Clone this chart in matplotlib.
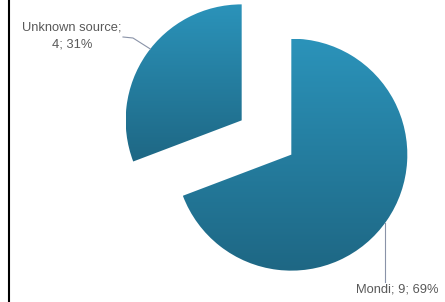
import numpy as np
import matplotlib.pyplot as plt
from matplotlib.colors import LinearSegmentedColormap

# data
sources = ["Mondi", "Unknown source"]
counts = [9, 4]

W, H = 445, 302
fig = plt.figure(figsize=(W / 100, H / 100), dpi=100)
ax = fig.add_axes([0, 0, 1, 1])

R = 116
center = (266.5, H - 137.5)
# pie explode is in data units here, so scale by radius
explode = [0.26 * R, 0.26 * R]
wedges, _ = ax.pie(counts, explode=explode, radius=R, center=center,
                   startangle=90, counterclock=False,
                   colors=["#23789a"] * 2, frame=True,
                   wedgeprops=dict(linewidth=0))
ax.set_xlim(0, W)
ax.set_ylim(0, H)
ax.set_aspect("equal")
ax.axis("off")

# vertical gradient fill, lighter at the top, clipped to each wedge
cmap = LinearSegmentedColormap.from_list("teal", ["#1e6784", "#2b93ba"])
grad = np.linspace(0, 1, 256).reshape(-1, 1)
for w in wedges:
    w.set_facecolor("none")
    bb = w.get_path().get_extents(w.get_transform())
    inv = ax.transData.inverted()
    (x0, y0), (x1, y1) = inv.transform([[bb.x0, bb.y0], [bb.x1, bb.y1]])
    im = ax.imshow(grad, cmap=cmap, origin="lower", aspect="auto",
                   extent=[x0, x1, y0, y1], interpolation="bilinear",
                   zorder=2)
    im.set_clip_path(w)

ax.set_xlim(0, W)
ax.set_ylim(0, H)

total = sum(counts)
txt_color = "#595959"
font = dict(family="Liberation Sans", fontsize=9.3, color=txt_color)

mondi, unknown = wedges
lab_m = f"{sources[0]}; {counts[0]}; {round(100 * counts[0] / total)}%"
lab_u = f"{sources[1]};\n{counts[1]}; {round(100 * counts[1] / total)}%"

ax.text(397, H - 290, lab_m, ha="center", va="center", **font)
ax.text(72, H - 36, lab_u, ha="center", va="center", linespacing=1.5, **font)

# leader for Mondi: vertical line from slice edge down to the label
cm = mondi.center
xm = 385
ym = cm[1] - np.sqrt(R ** 2 - (xm - cm[0]) ** 2)
ax.plot([xm, xm], [ym, H - 282], color="#8a93a8", lw=0.8, zorder=4)

# leader for Unknown source
cu = unknown.center
ang = np.deg2rad(142)
ex, ey = cu[0] + R * np.cos(ang), cu[1] + R * np.sin(ang)
ax.plot([123, 133, ex], [H - 37, H - 38, ey], color="#8a93a8", lw=0.8, zorder=4)

# left border line
fig.add_artist(plt.Line2D([8.5 / W, 8.5 / W], [0, 1], color="black", lw=1.5,
                          transform=fig.transFigure))

fig.savefig("out.png", dpi=100)
